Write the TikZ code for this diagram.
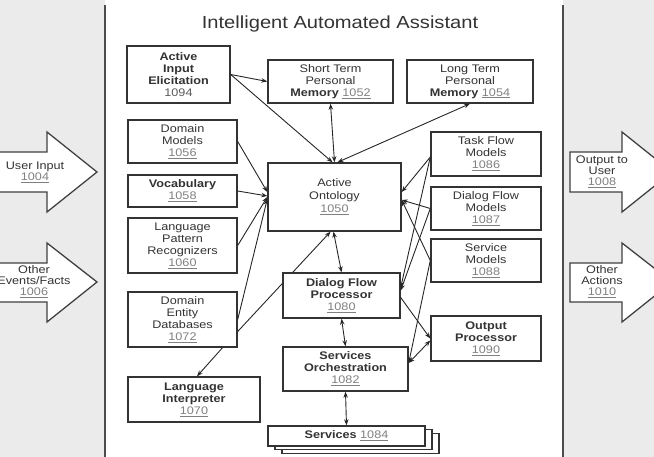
\documentclass[tikz,border=0pt]{standalone}
\usepackage{fontspec}
\setmainfont{Liberation Sans}[FakeStretch=1.15]
\usepackage{xcolor}
\usepackage{tikz}
\usetikzlibrary{arrows.meta,backgrounds}

\newcommand{\refno}[1]{{\normalfont\color{black!50}\underline{#1}}}
\newcommand{\plainno}[1]{{\normalfont\color{black!65}#1}}

\begin{document}
\begin{tikzpicture}[x=1pt, y=-1pt,
    box/.style={draw=black!80, line width=1.4pt, fill=white, align=center, inner sep=1pt,
        text=black!80, font=\fontsize{11}{12}\selectfont},
    strong/.style={box, font=\fontsize{11}{12}\selectfont\bfseries},
    conn/.style={draw=black!85, line width=0.9pt, -{Stealth[length=6pt,width=4.5pt]}},
    twoway/.style={conn, {Stealth[length=6pt,width=4.5pt]}-{Stealth[length=6pt,width=4.5pt]}},
    bigarrow/.style={draw=black!75, line width=1.3pt, fill=white, line join=miter},
    arrowtext/.style={align=center, text=black!80, font=\fontsize{11}{11}\selectfont}]
    \useasboundingbox (0,0) rectangle (654,457);
    % Fondo
    \fill[black!8] (0,0) rectangle (105,457);
    \fill[black!8] (563,0) rectangle (654,457);
    \draw[black!70, line width=1.6pt] (105,5) -- (105,457);
    \draw[black!70, line width=1.6pt] (563,5) -- (563,457);
    \node[text=black!80, font=\fontsize{17.5}{18}\selectfont] (title) at (340,24) {Intelligent Automated Assistant};

    % Entradas y salidas
    \draw[bigarrow] (-5,152) -- (47,152) -- (47,132) -- (97,172) -- (47,212) -- (47,192) -- (-5,192) -- cycle;
    \draw[bigarrow] (-5,263) -- (47,263) -- (47,243) -- (97,282) -- (47,322) -- (47,302) -- (-5,302) -- cycle;
    \draw[bigarrow] (570,152) -- (622,152) -- (622,132) -- (672,172) -- (622,212) -- (622,192) -- (570,192) -- cycle;
    \draw[bigarrow] (570,263) -- (622,263) -- (622,243) -- (672,282) -- (622,322) -- (622,302) -- (570,302) -- cycle;
    \node[arrowtext] (userin) at (35,172) {User Input\\\refno{1004}};
    \node[arrowtext] (events) at (34,282) {Other\\Events/Facts\\\refno{1006}};
    \node[arrowtext] (userout) at (602,172) {Output to\\User\\\refno{1008}};
    \node[arrowtext] (actions) at (602,282) {Other\\Actions\\\refno{1010}};

    % Cajas de la izquierda
    \node[strong, minimum width=103pt, minimum height=57pt] (aie) at (178.5,74.5) {Active\\Input\\Elicitation\\\plainno{1094}};
    \node[box, minimum width=109pt, minimum height=43pt] (dom) at (182.5,141.5) {Domain\\Models\\\refno{1056}};
    \node[strong, minimum width=109pt, minimum height=32pt] (voc) at (182.5,191) {Vocabulary\\\refno{1058}};
    \node[box, minimum width=109pt, minimum height=55pt] (lpr) at (182.5,245.5) {Language\\Pattern\\Recognizers\\\refno{1060}};
    \node[box, minimum width=109pt, minimum height=55pt] (ded) at (182.5,319.5) {Domain\\Entity\\Databases\\\refno{1072}};
    \node[strong, minimum width=132pt, minimum height=45pt] (lint) at (194,399.5) {Language\\Interpreter\\\refno{1070}};

    % Memorias
    \node[box, minimum width=125pt, minimum height=43pt] (stm) at (330.5,81.5) {Short Term\\Personal\\\textbf{Memory} \refno{1052}};
    \node[box, minimum width=126pt, minimum height=43pt] (ltm) at (470,81.5) {Long Term\\Personal\\\textbf{Memory} \refno{1054}};

    % Centro
    \node[box, minimum width=133pt, minimum height=68pt, font=\fontsize{11}{13}\selectfont] (onto) at (334.5,197) {Active\\Ontology\\\refno{1050}};
    \node[strong, minimum width=117pt, minimum height=45pt] (dfp) at (341.5,295.5) {Dialog Flow\\Processor\\\refno{1080}};
    \node[strong, minimum width=125pt, minimum height=44pt] (so) at (345.5,369) {Services\\Orchestration\\\refno{1082}};
    \node[box, minimum width=157pt, minimum height=20pt] (svc3) at (360.5,443.5) {};
    \node[box, minimum width=157pt, minimum height=20pt] (svc2) at (353.5,439.5) {};
    \node[strong, minimum width=157pt, minimum height=20pt] (svc) at (346.5,436) {Services \refno{1084}};

    % Cajas de la derecha
    \node[box, minimum width=110pt, minimum height=44pt] (tfm) at (486,154) {Task Flow\\Models\\\refno{1086}};
    \node[box, minimum width=110pt, minimum height=43pt] (dfm) at (486,208.5) {Dialog Flow\\Models\\\refno{1087}};
    \node[box, minimum width=110pt, minimum height=43pt] (sm) at (486,260.5) {Service\\Models\\\refno{1088}};
    \node[strong, minimum width=110pt, minimum height=45pt] (op) at (486,338.5) {Output\\Processor\\\refno{1090}};

    % Conexiones
    \draw[conn] (aie.east) -- (stm.west);
    \draw[conn] (aie.east) -- ([xshift=-2pt]onto.north);
    \draw[twoway] (stm.south) -- (onto.north);
    \draw[twoway] (ltm.south) -- ([xshift=3pt]onto.north);
    \draw[conn] (dom.east) -- ([yshift=5pt]onto.west);
    \draw[conn] (voc.east) -- ([yshift=1pt]onto.west);
    \draw[conn] (lpr.east) -- (onto.west);
    \draw[conn] (ded.east) -- ([yshift=-2pt]onto.west);
    \begin{pgfonlayer}{background}
        \draw[conn] ([yshift=-12pt]ded.east) -- ([xshift=-4pt]onto.south);
    \end{pgfonlayer}
    \draw[conn] ([xshift=40pt]ded.south) -- ([xshift=3pt]lint.north);
    \draw[twoway] ([xshift=-1pt]onto.south) -- (dfp.north);
    \draw[twoway] (dfp.south) -- (so.north);
    \draw[twoway] (so.south) -- (svc.north);
    \draw[conn] ([yshift=-3pt]tfm.west) -- ([yshift=5pt]onto.east);
    \draw[conn] ([yshift=-3pt]tfm.west) -- ([yshift=8pt]dfp.east);
    \draw[conn] (dfm.west) -- ([yshift=-3pt]onto.east);
    \draw[conn] (dfm.west) -- ([yshift=5pt]dfp.east);
    \draw[conn] (sm.west) -- ([yshift=-3pt]onto.east);
    \draw[conn] (sm.west) -- ([yshift=6pt]so.east);
    \draw[conn] ([yshift=-2pt]dfp.east) -- (op.west);
    \draw[twoway] ([yshift=6pt]so.east) -- ([yshift=-2pt]op.west);
\end{tikzpicture}
\end{document}
